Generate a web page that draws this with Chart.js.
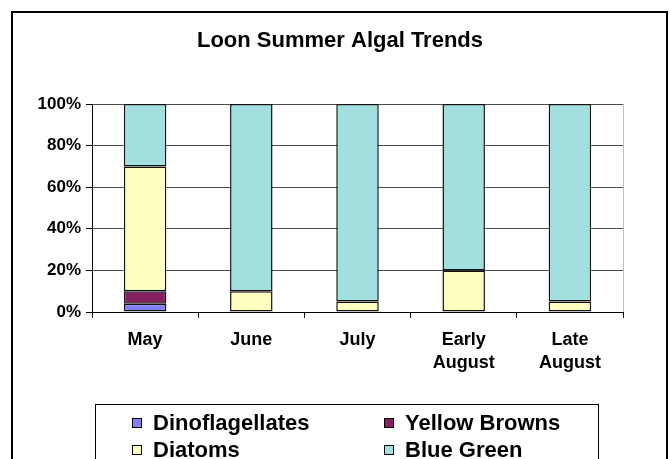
<!DOCTYPE html>
<html>
<head>
<meta charset="utf-8">
<script src="https://cdn.jsdelivr.net/npm/chart.js@4.4.0/dist/chart.umd.min.js"></script>
<style>
  html, body { margin: 0; padding: 0; background: #fff; }
  #wrap { width: 670px; height: 459px; position: relative; }
</style>
</head>
<body>
<div id="wrap"><canvas id="algaeChart"></canvas></div>
<script>
// sampling dates and share of each algal group (percent of total)
const months = ["May", "June", "July", ["Early", "August"], ["Late", "August"]];
const dinoflagellates = [4, 0, 0, 0, 0];
const yellowBrowns = [6, 0, 0, 0, 0];
const diatoms = [60, 10, 5, 20, 5];
const blueGreen = [30, 90, 95, 80, 95];
const yTicks = [0, 20, 40, 60, 80, 100];
const chartTitle = "Loon Summer Algal Trends";

const FONT = "Arial, 'Liberation Sans', sans-serif";

function series(label, data, color) {
  return {
    label: label,
    data: data,
    backgroundColor: color,
    borderColor: "#111",
    borderWidth: 1.5,
    borderSkipped: false,
    barPercentage: 0.4,
    categoryPercentage: 1.0,
  };
}

// outer frame, title, right edge of the plot and the boxed legend underneath
const framePlugin = {
  id: "frame",
  beforeDraw(chart) {
    const ctx = chart.ctx;
    ctx.save();
    ctx.fillStyle = "#fff";
    ctx.fillRect(0, 0, chart.width, chart.height);
    ctx.strokeStyle = "#000";
    ctx.lineWidth = 2;
    ctx.strokeRect(12, 12, 655, 480);

    // title is centred on the whole frame, not on the plot
    ctx.fillStyle = "#000";
    ctx.font = "bold 22px " + FONT;
    ctx.textAlign = "center";
    ctx.textBaseline = "alphabetic";
    ctx.fillText(chartTitle, 340, 47);
    ctx.restore();
  },
  beforeDatasetsDraw(chart) {
    const ctx = chart.ctx;
    const area = chart.chartArea;
    ctx.save();
    ctx.strokeStyle = "#c0c0c0";
    ctx.lineWidth = 1;
    ctx.beginPath();
    ctx.moveTo(Math.round(area.right) + 0.5, area.top);
    ctx.lineTo(Math.round(area.right) + 0.5, area.bottom);
    ctx.stroke();
    ctx.restore();
  },
  afterDraw(chart) {
    const ctx = chart.ctx;
    ctx.save();
    ctx.fillStyle = "#fff";
    ctx.fillRect(95.5, 404.5, 503, 70);
    ctx.strokeStyle = "#000";
    ctx.lineWidth = 1;
    ctx.strokeRect(95.5, 404.5, 503, 70);

    const cols = [132, 384];
    const rows = [423, 450];
    ctx.font = "bold 22px " + FONT;
    ctx.textBaseline = "middle";
    chart.data.datasets.forEach((ds, i) => {
      const x = cols[i % 2];
      const y = rows[Math.floor(i / 2)];
      ctx.fillStyle = ds.backgroundColor;
      ctx.fillRect(x + 0.5, y - 4.5, 9, 9);
      ctx.strokeStyle = "#000";
      ctx.strokeRect(x + 0.5, y - 4.5, 9, 9);
      ctx.fillStyle = "#000";
      ctx.fillText(ds.label, x + 21, y + 1);
    });
    ctx.restore();
  },
};

const ctx = document.getElementById("algaeChart").getContext("2d");

new Chart(ctx, {
  type: "bar",
  data: {
    labels: months,
    datasets: [
      series("Dinoflagellates", dinoflagellates, "#8080ff"),
      series("Yellow Browns", yellowBrowns, "#872060"),
      series("Diatoms", diatoms, "#ffffc0"),
      series("Blue Green", blueGreen, "#a2e0e0"),
    ],
  },
  options: {
    animation: false,
    responsive: true,
    maintainAspectRatio: false,
    layout: {
      padding: { left: 12, right: 47, top: 104, bottom: 0 },
    },
    scales: {
      x: {
        stacked: true,
        afterFit: (scale) => { scale.height = 147; },
        border: { display: true, color: "#000", width: 1 },
        grid: {
          offset: true,
          drawOnChartArea: false,
          drawTicks: true,
          tickLength: 6,
          color: "#000",
        },
        ticks: {
          color: "#000",
          padding: 11,
          maxRotation: 0,
          font: { family: FONT, size: 18, weight: "bold", lineHeight: 1.25 },
        },
      },
      y: {
        stacked: true,
        min: 0,
        max: 100,
        afterFit: (scale) => { scale.width = 80; },
        afterBuildTicks: (scale) => {
          scale.ticks = yTicks.map((v) => ({ value: v }));
        },
        border: { display: true, color: "#000", width: 1 },
        grid: {
          color: "#4a4a4a",
          tickLength: 6,
          tickColor: "#000",
        },
        ticks: {
          color: "#000",
          padding: 5,
          callback: (v) => v + "%",
          font: { family: FONT, size: 17, weight: "bold" },
        },
      },
    },
    plugins: {
      legend: { display: false },
      tooltip: { enabled: false },
      title: { display: false },
    },
  },
  plugins: [framePlugin],
});
</script>
</body>
</html>
